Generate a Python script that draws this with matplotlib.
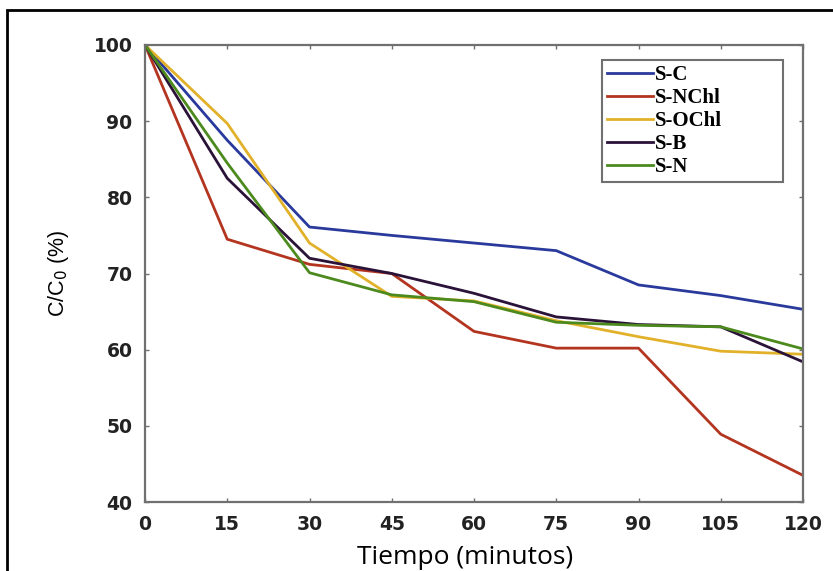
import matplotlib
matplotlib.use("Agg")
import matplotlib.pyplot as plt
from matplotlib.patches import Rectangle

# Data
tiempo = [0, 15, 30, 45, 60, 75, 90, 105, 120]
s_c = [100, 87.5, 76.1, 75.0, 74.0, 73.0, 68.5, 67.1, 65.3]
s_nchl = [100, 74.5, 71.2, 70.0, 62.4, 60.2, 60.2, 48.9, 43.5]
s_ochl = [100, 89.7, 74.0, 67.0, 66.4, 63.8, 61.7, 59.8, 59.4]
s_b = [100, 82.5, 72.0, 70.0, 67.4, 64.3, 63.3, 63.0, 58.4]
s_n = [100, 84.5, 70.1, 67.2, 66.3, 63.6, 63.2, 63.0, 60.1]

series = [
    ("S-C", s_c, "#2a3a9c"),
    ("S-NChl", s_nchl, "#b3341f"),
    ("S-OChl", s_ochl, "#e2b12a"),
    ("S-B", s_b, "#2a1238"),
    ("S-N", s_n, "#4c8a1e"),
]

fig = plt.figure(figsize=(8.33, 5.71), dpi=100)
ax = fig.add_axes([145/833, 69/571, 658/833, 457/571])

for name, vals, col in series:
    ax.plot(tiempo, vals, color=col, lw=2.0, label=name)

ax.set_xlim(0, 120)
ax.set_ylim(40, 100)
ax.set_xticks(tiempo)
ax.set_yticks(range(40, 101, 10))
ax.tick_params(direction="in", top=True, right=True, length=3, width=1,
               color="#707070", labelsize=13.5, pad=9)
for lab in ax.get_xticklabels() + ax.get_yticklabels():
    lab.set_fontfamily("DejaVu Sans")
    lab.set_fontweight("bold")
    lab.set_color("#222222")
for sp in ax.spines.values():
    sp.set_color("#707070")
    sp.set_linewidth(1.6)

ax.set_ylabel("C/C$_0$ (%)", fontsize=15.5, family="Liberation Sans")
ax.yaxis.set_label_coords(-0.112, 0.5)
ax.set_xlabel("Tiempo (minutos)", fontsize=19, family="Open Sans")
ax.xaxis.set_label_coords(0.486, -0.094)

# legend box stretched to the width seen in the reference
x0 = (602 - 145) / 658
w = (783 - 602) / 658
ytop = (502 - 60) / 457
leg = ax.legend(loc="upper left", bbox_to_anchor=(x0, ytop - 0.3, w, 0.3),
                mode="expand",
                prop={"family": "Liberation Serif", "weight": "bold", "size": 15},
                handlelength=2.2, handletextpad=0.1, labelspacing=0.14,
                borderpad=0.25, borderaxespad=0, fancybox=False, framealpha=1)
leg.get_frame().set_edgecolor("#707070")
leg.get_frame().set_linewidth(1.5)

# outer black frame of the picture
fig.add_artist(Rectangle((7/833, -0.05), 1.0, (561/571) + 0.05,
                         transform=fig.transFigure, fill=False,
                         lw=2, edgecolor="black"))

fig.savefig("out.png", dpi=100)
